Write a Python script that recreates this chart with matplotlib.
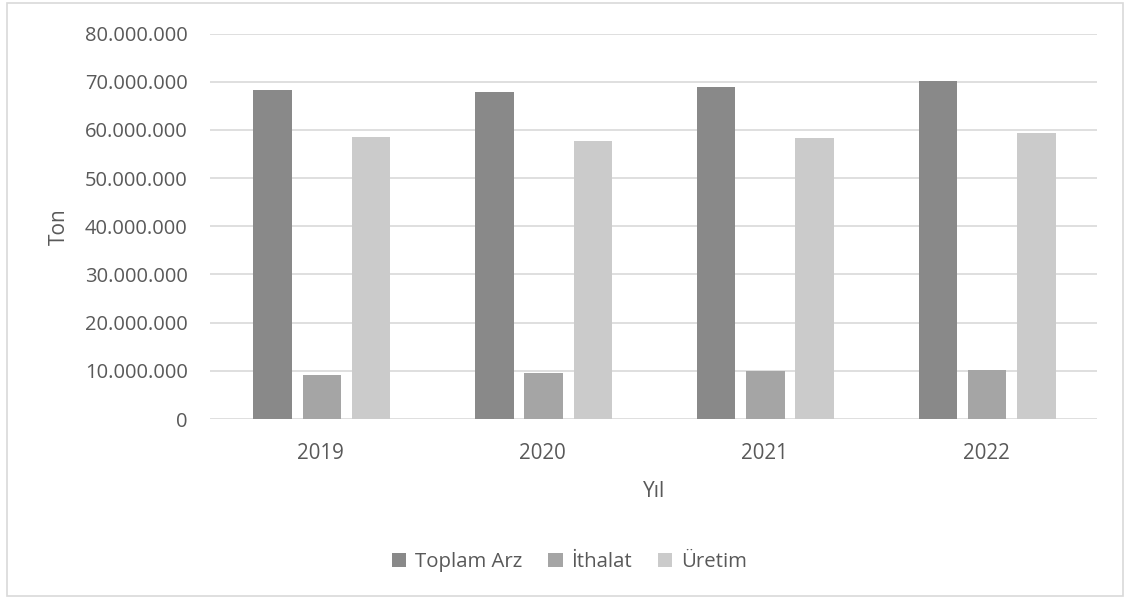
import numpy as np
import matplotlib.pyplot as plt
from matplotlib.ticker import FuncFormatter, MultipleLocator
from matplotlib.patches import Rectangle

years = ['2019', '2020', '2021', '2022']
toplam_arz = [68200000, 67900000, 68900000, 70100000]
ithalat = [9070000, 9600000, 9900000, 10170000]
uretim = [58500000, 57700000, 58400000, 59300000]

series = [('Toplam Arz', toplam_arz, '#898989'),
          ('İthalat', ithalat, '#a5a5a5'),
          ('Üretim', uretim, '#cbcbcb')]

plt.rcParams['font.family'] = ['Open Sans', 'DejaVu Sans']
txt = '#595959'

fig = plt.figure(figsize=(11.25, 5.99), dpi=100)
ax = fig.add_axes([0.1867, 0.3005, 0.7886, 0.6435])

x = np.arange(len(years))
w = 0.174
step = 0.222
for i, (name, vals, col) in enumerate(series):
    ax.bar(x + (i - 1) * step + 0.004, vals, width=w, color=col, label=name, zorder=3)

ax.set_xlim(-0.5, len(years) - 0.5)
ax.set_ylim(0, 80000000)
ax.yaxis.set_major_locator(MultipleLocator(10000000))
ax.yaxis.set_major_formatter(FuncFormatter(lambda v, p: f'{v:,.0f}'.replace(',', '.')))
ax.set_xticks(x)
ax.set_xticklabels(years)
ax.grid(axis='y', color='#d9d9d9', linewidth=1.2, zorder=0)
for s in ax.spines.values():
    s.set_visible(False)
ax.tick_params(axis='both', length=0, colors=txt)
ax.tick_params(axis='y', pad=16, labelsize=14.5)
ax.tick_params(axis='x', pad=17, labelsize=14.8)

ax.set_ylabel('Ton', fontsize=15, color=txt)
ax.yaxis.set_label_coords(-0.158, 0.5)
ax.set_xlabel('Yıl', fontsize=15, color=txt)
ax.xaxis.set_label_coords(0.5, -0.16)

leg = ax.legend(loc='center', bbox_to_anchor=(0.405, -0.372), ncol=3, frameon=False,
                fontsize=14.7, handlelength=0.7, handleheight=0.7,
                handletextpad=0.4, columnspacing=1.3)
for t in leg.get_texts():
    t.set_color(txt)

fig.patches.append(Rectangle((0.0062, 0.005), 0.992, 0.99, transform=fig.transFigure,
                             fill=False, edgecolor='#d9d9d9', linewidth=1.2))

fig.savefig('out.png', dpi=100)
